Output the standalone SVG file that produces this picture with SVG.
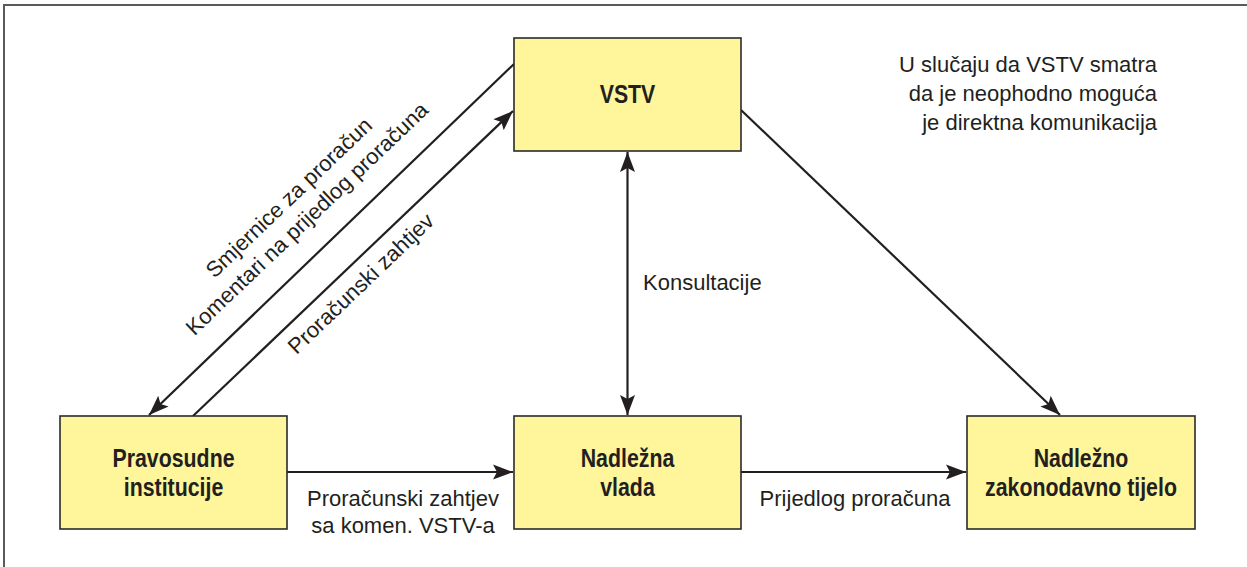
<svg xmlns="http://www.w3.org/2000/svg" width="1247" height="567" viewBox="0 0 1247 567">
<defs>
<style>
.frame{fill:none;stroke:#5a5a5a;stroke-width:2}
.box{fill:#fff59b;stroke:#2a2a2a;stroke-width:1.6}
.shadow{fill:none;stroke:#c8c8c8;stroke-width:1.5}
.bold{font-family:"Liberation Sans",Arial,sans-serif;font-weight:bold;font-size:26px;fill:#231f20;text-anchor:middle}
.lbl{font-family:"Liberation Sans",Arial,sans-serif;font-size:22px;fill:#231f20}
.mid{text-anchor:middle}
.end{text-anchor:end}
.conn{fill:none;stroke:#231f20;stroke-width:2.2}
</style>
<marker id="ah" markerUnits="userSpaceOnUse" markerWidth="22" markerHeight="18" viewBox="0 0 22 18" refX="20" refY="9" orient="auto-start-reverse">
<path d="M0,1.5 L20,9 L0,16.5 L4,9 z" fill="#231f20"/>
</marker>
</defs>
<rect x="0" y="0" width="1247" height="567" fill="#ffffff"/>
<rect class="frame" x="4" y="5" width="1300" height="620"/>

<g id="connectors">
<path class="conn" d="M514,64 L149,415" marker-end="url(#ah)"/>
<path class="conn" d="M193,416 L513,111" marker-end="url(#ah)"/>
<path class="conn" d="M627.5,152 L627.5,415" marker-start="url(#ah)" marker-end="url(#ah)"/>
<path class="conn" d="M741,110 L1060,415" marker-end="url(#ah)"/>
<path class="conn" d="M287,472 L513,472" marker-end="url(#ah)"/>
<path class="conn" d="M741,472 L966,472" marker-end="url(#ah)"/>
<text class="lbl mid" transform="translate(294,203) rotate(-43.7)">Smjernice za proračun</text>
<text class="lbl mid" transform="translate(312,224) rotate(-43.7)">Komentari na prijedlog proračuna</text>
<text class="lbl mid" transform="translate(366,289) rotate(-43.7)">Proračunski zahtjev</text>
<text class="lbl" x="643" y="290">Konsultacije</text>
<text class="lbl mid" x="403" y="506">Proračunski zahtjev</text>
<text class="lbl mid" x="403" y="533">sa komen. VSTV-a</text>
<text class="lbl mid" x="855" y="506">Prijedlog proračuna</text>
</g>

<g id="note">
<text class="lbl end" x="1157" y="72">U slučaju da VSTV smatra</text>
<text class="lbl end" x="1157" y="101">da je neophodno moguća</text>
<text class="lbl end" x="1157" y="130">je direktna komunikacija</text>
</g>

<g id="vstv">
<rect class="box" x="514" y="38" width="227" height="113"/>
<text class="bold" transform="translate(627.5,103) scale(0.82,1)">VSTV</text>
</g>

<g id="pravosudne">
<rect class="box" x="60" y="416" width="227" height="113"/>
<text class="bold" transform="translate(173.5,467) scale(0.82,1)">Pravosudne</text>
<text class="bold" transform="translate(173.5,496) scale(0.82,1)">institucije</text>
</g>

<g id="vlada">
<rect class="box" x="514" y="416" width="227" height="113"/>
<text class="bold" transform="translate(627.5,467) scale(0.82,1)">Nadležna</text>
<text class="bold" transform="translate(627.5,496) scale(0.82,1)">vlada</text>
</g>

<g id="zakonodavno">
<rect class="box" x="967" y="416" width="228" height="113"/>
<text class="bold" transform="translate(1081,467) scale(0.82,1)">Nadležno</text>
<text class="bold" transform="translate(1081,496) scale(0.82,1)">zakonodavno tijelo</text>
</g>
</svg>
